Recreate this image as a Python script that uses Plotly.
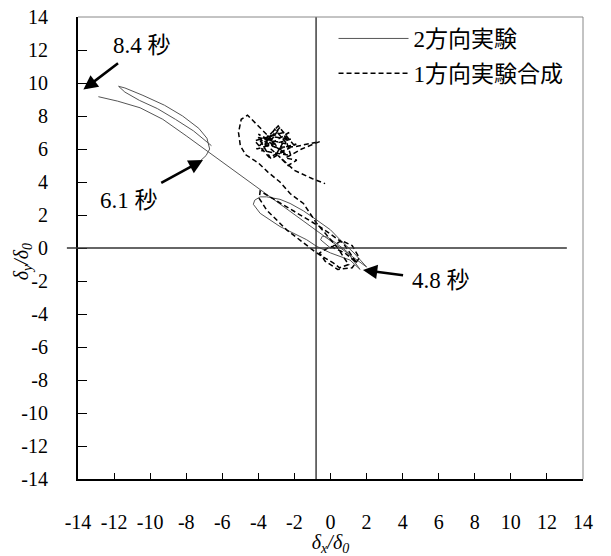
import plotly.graph_objects as go

# ---- tick labels ----
tick_vals = [-14, -12, -10, -8, -6, -4, -2, 0, 2, 4, 6, 8, 10, 12, 14]
tick_text = ["-14", "-12", "-10", "-8", "-6", "-4", "-2", "0", "2", "4", "6", "8", "10", "12", "14"]

# ---- series names ----
series_names = ["2方向実験", "1方向実験合成"]

# ---- 2-direction test (solid) ----
solid_x = [0.0, -0.3, -0.55, -0.45, -0.15, 0.3, 0.9, 1.64, 1.08, 0.0, -0.77, -1.32, -2.8, -3.9,
           -4.28, -4.2, -3.9, -3.54, -2.8, -2.24, -1.5, -0.77, 0.0, 0.53, 1.3, 2.0,
           1.0, 0.0, -1.0, -2.0, -3.0, -4.0, -5.0, -6.0, -6.67, -8.0, -9.3, -10.56, -11.8, -12.87,
           None,
           -6.6, -7.6, -8.6, -9.6, -10.6, -11.4, -11.75, -11.4, -10.4, -9.2, -8.2, -7.3, -6.85,
           -6.7, -6.9, -7.2]
solid_y = [0.0, 0.3, 0.5, 0.72, 0.65, 0.3, -0.2, -1.3, -0.73, -0.3, 0.1, 0.5, 1.3, 2.1,
           2.65, 2.9, 3.1, 3.1, 2.95, 2.7, 2.25, 1.7, 1.1, 0.5, -0.3, -1.15,
           -0.35, 0.45, 1.25, 2.0, 2.8, 3.6, 4.4, 5.2, 5.75, 6.8, 7.8, 8.5, 8.9, 9.17,
           None,
           6.2, 7.1, 7.8, 8.45, 8.95, 9.45, 9.8, 9.7, 9.25, 8.65, 8.0, 7.25, 6.65,
           6.0, 5.6, 5.3]

# ---- 1-direction tests combined (dashed) ----
dash_x = [0.0, 0.6, 1.2, 1.6, 1.2, 0.4, -0.3, -0.6, 0.0, 0.8, 1.45,
          0.7, -0.6, -2.1, -3.2, -3.9, -3.95, -3.54, -2.43, -1.5, -0.77, 0.15, 0.5, 1.0,
          0.4, -0.77, -1.5, -2.24, -2.8, -3.47, -4.0, -4.7, -5.0, -5.1, -4.95, -4.6, -4.1, -3.6,
          -3.1, -4.0, -2.5, -3.6, -2.2, -4.1, -3.0, -2.9, -2.0, -3.4, -4.2, -2.6, -2.2, -3.8,
          -3.1, -2.4, -4.0, -3.3, -1.9, -2.9, -3.9, -3.0, -2.3, -3.5, -2.8, -3.7, -3.0,
          -1.97, -0.6, -1.6, -2.5, -1.87, -2.35, -2.9, -2.0, -1.0, -0.3]
dash_y = [0.0, 0.45, 0.15, -0.6, -1.2, -1.3, -0.8, -0.3, 0.1, -0.3, -0.9,
          0.3, 1.3, 2.3, 3.0, 3.45, 3.0, 2.3, 1.1, 0.3, -0.3, -0.9, -1.2, -1.0,
          0.0, 1.5, 2.7, 3.3, 4.0, 4.6, 5.15, 5.65, 6.2, 7.0, 7.8, 8.05, 7.5, 6.9,
          6.4, 6.9, 5.7, 6.8, 6.6, 6.0, 7.3, 7.4, 6.2, 5.5, 6.5, 7.0, 5.6, 5.9,
          7.2, 6.3, 6.7, 5.4, 6.3, 6.0, 6.6, 5.7, 7.0, 6.2, 7.3, 6.3, 6.1,
          6.14, 6.45, 6.0, 5.45, 5.33, 5.0, 5.6, 4.7, 4.2, 3.9]

# ---- reference lines ----
vline_x = -0.8
hline_y = 0.0

# ---- time labels: text centre and arrow tip ----
label_text = ["8.4 秒", "6.1 秒", "4.8 秒"]
label_xy = [(-10.45, 12.3), (-11.15, 2.9), (6.1, -1.95)]
arrow_tip = [(-13.7, 9.6), (-7.07, 5.33), (1.8, -1.33)]

# ---- axis titles ----
x_title = "<i>δ<sub>x</sub>/δ<sub>0</sub></i>"
y_title = "<i>δ<sub>y</sub>/δ<sub>0</sub></i>"

SERIF = "Liberation Serif, Times New Roman, serif"
SERIF_CJK = "Liberation Serif, Times New Roman, Noto Sans CJK JP, serif"

fig = go.Figure()
fig.add_trace(go.Scatter(x=solid_x, y=solid_y, mode="lines", name=series_names[0],
                         legendgroup="a",
                         line=dict(color="#555555", width=1), connectgaps=False))
fig.add_trace(go.Scatter(x=dash_x, y=dash_y, mode="lines", name=series_names[1],
                         legendgroup="b",
                         line=dict(color="#000000", width=1.5, dash="5px,3px")))

shapes = [
    dict(type="line", xref="paper", yref="y", x0=-0.022, x1=0.968, y0=hline_y, y1=hline_y,
         line=dict(color="#333333", width=1.3)),
    dict(type="line", xref="x", yref="paper", x0=vline_x, x1=vline_x, y0=0, y1=1,
         line=dict(color="#222222", width=1.3)),
    dict(type="line", xref="paper", yref="paper", x0=0, x1=1, y0=1, y1=1,
         line=dict(color="#888888", width=1)),
    dict(type="line", xref="paper", yref="paper", x0=1, x1=1, y0=0, y1=1,
         line=dict(color="#888888", width=1)),
]

annotations = []
for t, (tx, ty), (x_, y_) in zip(label_text, label_xy, arrow_tip):
    annotations.append(dict(x=x_, y=y_, xref="x", yref="y", ax=tx, ay=ty, axref="x", ayref="y",
                            text=t, showarrow=True, arrowhead=2, arrowsize=1.1, arrowwidth=2.6,
                            arrowcolor="black", standoff=0, startstandoff=7,
                            font=dict(family=SERIF_CJK, size=23, color="black")))
annotations.append(dict(x=-0.11, y=0.47, xref="paper", yref="paper", text=y_title,
                        textangle=-90, showarrow=False, xanchor="center", yanchor="middle",
                        font=dict(family=SERIF, size=20, color="black")))

fig.update_layout(
    width=611, height=556,
    margin=dict(l=78, r=28, t=17, b=77, autoexpand=False),
    paper_bgcolor="white", plot_bgcolor="white",
    font=dict(family=SERIF_CJK),
    showlegend=True,
    legend=dict(x=0.506, y=1.0, xanchor="left", yanchor="top", bgcolor="rgba(0,0,0,0)",
                font=dict(family=SERIF_CJK, size=23, color="black"), itemwidth=70,
                tracegroupgap=2),
    shapes=shapes,
    annotations=annotations,
    xaxis=dict(range=[-14, 14], tickmode="array", tickvals=tick_vals, ticktext=tick_text,
               ticks="inside", ticklen=6, tickwidth=1.3, tickcolor="black",
               showline=True, linecolor="black", linewidth=2, mirror=False, automargin=False,
               showgrid=False, zeroline=False, ticklabelstandoff=24,
               tickfont=dict(family=SERIF, size=20, color="black"),
               title=dict(text=x_title, standoff=8,
                          font=dict(family=SERIF, size=20, color="black"))),
    yaxis=dict(range=[-14, 14], tickmode="array", tickvals=tick_vals, ticktext=tick_text,
               ticks="inside", ticklen=9, tickwidth=1.3, tickcolor="black",
               showline=True, linecolor="black", linewidth=2, mirror=False, automargin=False,
               showgrid=False, zeroline=False, ticklabelstandoff=24,
               tickfont=dict(family=SERIF, size=20, color="black")),
)

fig.write_html("out.html")
